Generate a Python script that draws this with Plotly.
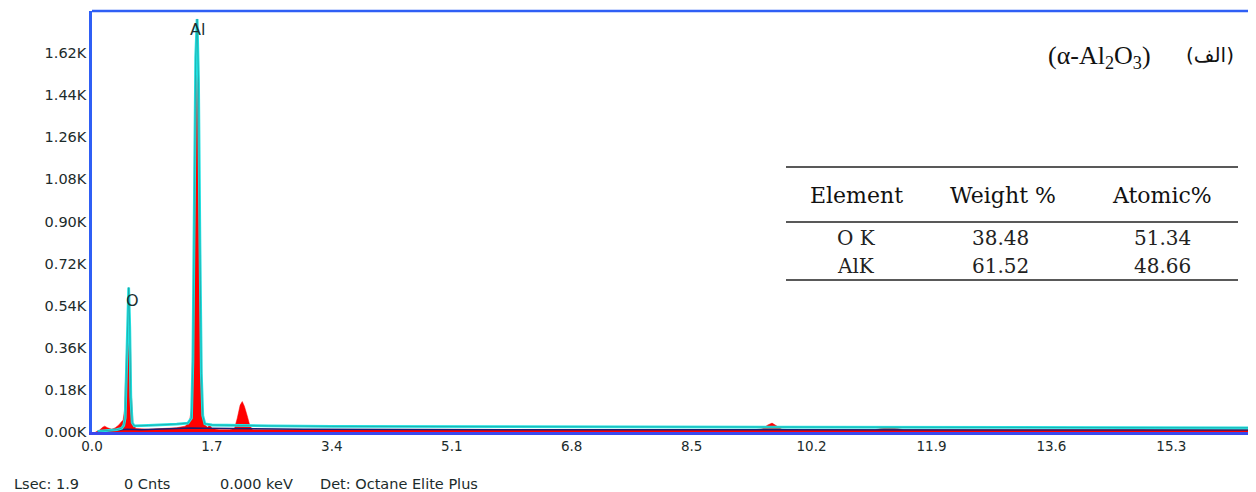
import plotly.graph_objects as go

# ---------------- data ----------------
red_energy = [0.05, 0.10, 0.15, 0.18, 0.22, 0.28, 0.33, 0.38, 0.42, 0.44, 0.46, 0.48, 0.50, 0.52, 0.54,
              0.56, 0.58, 0.62, 0.80, 1.00, 1.20, 1.32, 1.36, 1.38, 1.41, 1.43, 1.45, 1.47, 1.49,
              1.51, 1.53, 1.55, 1.57, 1.60, 1.64, 1.67, 1.70, 1.80, 1.95, 2.02, 2.06, 2.10, 2.13,
              2.16, 2.20, 2.24, 2.28, 3.00, 5.00, 9.40, 9.50, 9.58, 9.64, 9.70, 9.78, 9.90, 11.10,
              11.20, 11.30, 11.40, 11.50, 13.00, 16.50]
red_counts = [0, 6, 20, 25, 18, 12, 18, 30, 45, 50, 90, 260, 500, 600, 450,
              150, 40, 15, 12, 14, 18, 25, 38, 42, 100, 400, 1100, 1650, 1760,
              1550, 900, 300, 80, 30, 20, 32, 15, 10, 10, 15, 60, 115, 130,
              110, 70, 25, 10, 10, 10, 10, 14, 30, 38, 28, 12, 10, 10,
              16, 20, 16, 10, 10, 10]

fit_energy = [0.08, 0.20, 0.35, 0.42, 0.45, 0.47, 0.49, 0.51, 0.52, 0.535, 0.55, 0.57, 0.60,
              0.80, 1.00, 1.20, 1.36, 1.41, 1.43, 1.45, 1.47, 1.49, 1.51, 1.53, 1.55, 1.57,
              1.60, 1.70, 2.00, 2.50, 3.40, 5.00, 7.00, 9.00, 11.00, 13.00, 16.50]
fit_counts = [3, 6, 10, 16, 28, 60, 300, 590, 618, 450, 150, 40, 26,
              28, 30, 34, 38, 60, 300, 1000, 1600, 1766, 1500, 800, 250, 70,
              35, 30, 28, 26, 24, 23, 22, 21, 20, 19, 18]

bg_energy = [0.08, 0.30, 0.50, 0.70, 1.00, 1.40, 1.60, 2.00, 3.00, 6.00, 10.00, 16.50]
bg_counts = [2, 6, 12, 10, 14, 17, 16, 14, 12, 10, 9, 8]

x_tick_vals = [0.0, 1.7, 3.4, 5.1, 6.8, 8.5, 10.2, 11.9, 13.6, 15.3]
x_tick_text = ["0.0", "1.7", "3.4", "5.1", "6.8", "8.5", "10.2", "11.9", "13.6", "15.3"]
y_tick_vals = [0, 180, 360, 540, 720, 900, 1080, 1260, 1440, 1620]
y_tick_text = ["0.00K", "0.18K", "0.36K", "0.54K", "0.72K", "0.90K", "1.08K", "1.26K", "1.44K", "1.62K"]

peak_labels = ["O", "Al"]
peak_label_energy = [0.567, 1.49]
peak_label_counts = [564, 1719]

table_header = ["Element", "Weight %", "Atomic%"]
table_rows = [["O K", "38.48", "51.34"], ["AlK", "61.52", "48.66"]]

status_texts = ["Lsec: 1.9", "0 Cnts", "0.000 keV", "Det: Octane Elite Plus"]

# ---------------- layout helpers (page pixel -> paper) ----------------
OFF = 8                      # browser body margin
W, H = 1256 - OFF, 492 - OFF
PL, PT, PB, PR = 92, 11, 432, 1256   # plot area in page pixels
def px(x):
    return (x - PL) / (PR - PL)
def py(y):
    return (PB - y) / (PB - PT)

fig = go.Figure()
fig.add_trace(go.Scatter(x=red_energy, y=red_counts, mode="lines", fill="tozeroy",
                         line=dict(color="#ff0000", width=0.5), fillcolor="#ff0000",
                         hoverinfo="skip", showlegend=False))
fig.add_trace(go.Scatter(x=bg_energy, y=bg_counts, mode="lines",
                         line=dict(color="#1c1c70", width=1.5), showlegend=False))
fig.add_trace(go.Scatter(x=fit_energy, y=fit_counts, mode="lines",
                         line=dict(color="#22e3e3", width=2.8), showlegend=False))
fig.add_trace(go.Scatter(x=fit_energy, y=fit_counts, mode="lines",
                         line=dict(color="#1e9c9c", width=0.7), showlegend=False))

fig.update_xaxes(range=[0, 16.5], tickvals=x_tick_vals, ticktext=x_tick_text,
                 showgrid=False, zeroline=False, showline=True, linecolor="#3a48ee",
                 linewidth=3, ticks="",
                 tickfont=dict(family="DejaVu Sans", size=13.5, color="#1c2b2b"))
fig.update_yaxes(range=[0, 1800], tickvals=y_tick_vals, ticktext=y_tick_text,
                 showgrid=False, zeroline=False, showline=True, linecolor="#2f5ff5",
                 linewidth=2.5, ticks="",
                 tickfont=dict(family="DejaVu Sans", size=14.5, color="#1c2b2b"))

shapes = [dict(type="line", xref="paper", yref="paper", x0=0, x1=1, y0=1, y1=1,
               line=dict(color="#2f5ff5", width=2.5))]
for yy in [167, 222, 280]:
    shapes.append(dict(type="line", xref="paper", yref="paper", x0=px(786), x1=px(1238),
                       y0=py(yy), y1=py(yy), line=dict(color="#222222", width=1.5)))

annotations = []
for lab, e, c in zip(peak_labels, peak_label_energy, peak_label_counts):
    annotations.append(dict(x=e, y=c, xref="x", yref="y", text=lab, showarrow=False,
                            xanchor="center", yanchor="middle",
                            font=dict(family="DejaVu Sans", size=16, color="#1a3030")))

for cx, t in zip([856, 1003, 1162], table_header):
    annotations.append(dict(x=px(cx), y=py(195), xref="paper", yref="paper", text=t,
                            showarrow=False, xanchor="center", yanchor="middle",
                            font=dict(family="DejaVu Serif", size=22, color="#111111")))
for ry, row in zip([238, 266], table_rows):
    for cx, t in zip([856, 1000, 1162], row):
        annotations.append(dict(x=px(cx), y=py(ry), xref="paper", yref="paper", text=t,
                                showarrow=False, xanchor="center", yanchor="middle",
                                font=dict(family="DejaVu Serif", size=20, color="#222222")))

annotations.append(dict(x=px(1099), y=py(57), xref="paper", yref="paper",
                        text="(α-Al<sub>2</sub>O<sub>3</sub>)", showarrow=False,
                        xanchor="center", yanchor="middle",
                        font=dict(family="Liberation Serif", size=26, color="#111111")))
annotations.append(dict(x=px(1210), y=py(55), xref="paper", yref="paper", text="(الف)",
                        showarrow=False, xanchor="center", yanchor="middle",
                        font=dict(family="DejaVu Sans", size=20, color="#111111")))

for sx, t in zip([12, 122, 218, 318], status_texts):
    annotations.append(dict(x=px(sx), y=py(484), xref="paper", yref="paper", text=t,
                            xanchor="left", yanchor="middle", showarrow=False,
                            font=dict(family="DejaVu Sans", size=14.5, color="#1c2b2b")))

fig.update_layout(width=W, height=H,
                  margin=dict(l=PL - OFF, r=0, t=PT - OFF, b=H - (PB - OFF)),
                  paper_bgcolor="white", plot_bgcolor="white",
                  shapes=shapes, annotations=annotations, showlegend=False)

fig.write_html("out.html")
